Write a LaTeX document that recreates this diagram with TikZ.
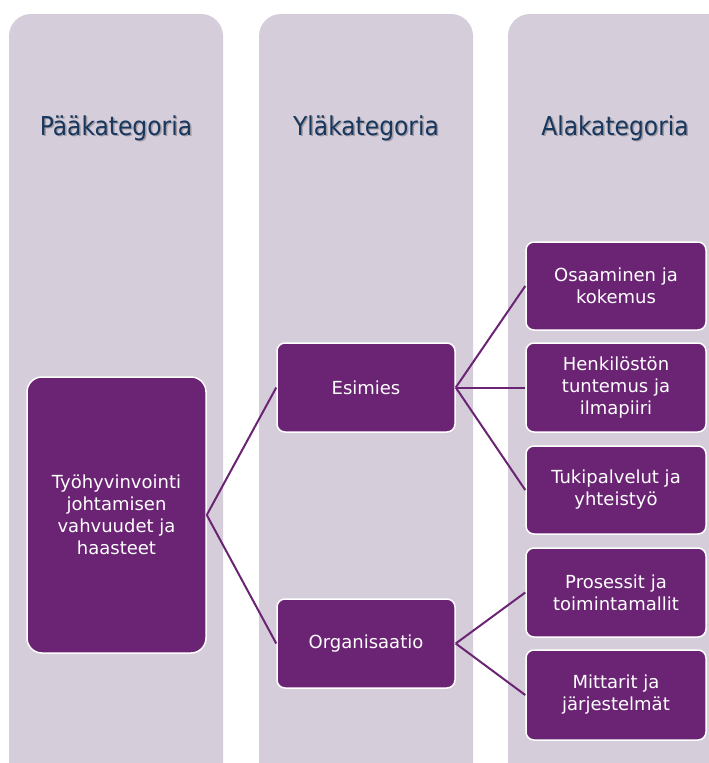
\documentclass[tikz,border=0pt]{standalone}
\usepackage{fontspec}
\setmainfont{DejaVu Sans}
\newfontfamily\condfont{DejaVu Sans Condensed}
\definecolor{colbg}{HTML}{D5CDD9}
\definecolor{boxpurple}{HTML}{6B2474}
\definecolor{headblue}{HTML}{17375E}
\tikzset{
  column/.style={fill=colbg, draw=none, rounded corners=22pt},
  catbox/.style={fill=boxpurple, draw=white, line width=1.5pt, rounded corners=8pt,
    text=white, align=center, inner sep=2pt, font=\fontsize{18}{22}\selectfont},
  header/.style={text=headblue, font=\condfont\fontsize{26}{30}\selectfont},
  hshadow/.style={text=black, opacity=0.25, font=\condfont\fontsize{26}{30}\selectfont},
  link/.style={draw=boxpurple, line width=2pt}
}
\begin{document}
\begin{tikzpicture}[x=1pt,y=-1pt]
\useasboundingbox (0,0) rectangle (709,763);
\begin{scope}
\clip (0,0) rectangle (709,763);
\fill[column] (9,14) rectangle (223,790);
\fill[column] (259,14) rectangle (473,790);
\fill[column] (508,14) rectangle (730,790);
\end{scope}
\node[hshadow] (h1s) at (117.5,129.5) {Pääkategoria};
\node[hshadow] (h2s) at (367.5,129.5) {Yläkategoria};
\node[hshadow] (h3s) at (616.5,129.5) {Alakategoria};
\node[header] (h1) at (116,128) {Pääkategoria};
\node[header] (h2) at (366,128) {Yläkategoria};
\node[header] (h3) at (615,128) {Alakategoria};

\node[catbox, minimum width=179pt, minimum height=276pt, rounded corners=15pt] (main) at (116.5,515)
  {Työhyvinvointi\\johtamisen\\vahvuudet ja\\haasteet};
\node[catbox, minimum width=178pt, minimum height=89pt] (esi) at (366,387.5) {Esimies};
\node[catbox, minimum width=178pt, minimum height=89pt] (org) at (366,643.5) {Organisaatio};
\node[catbox, minimum width=180pt, minimum height=88pt] (osa) at (616,286) {Osaaminen ja\\kokemus};
\node[catbox, minimum width=180pt, minimum height=89pt] (hen) at (616,387.5) {Henkilöstön\\tuntemus ja\\ilmapiiri};
\node[catbox, minimum width=180pt, minimum height=88pt] (tuk) at (616,490) {Tukipalvelut ja\\yhteistyö};
\node[catbox, minimum width=180pt, minimum height=89pt] (pro) at (616,592.5) {Prosessit ja\\toimintamallit};
\node[catbox, minimum width=180pt, minimum height=90pt] (mit) at (616,695) {Mittarit ja\\järjestelmät};

\draw[link] (main.east) -- (esi.west);
\draw[link] (main.east) -- (org.west);
\draw[link] (esi.east) -- (osa.west);
\draw[link] (esi.east) -- (hen.west);
\draw[link] (esi.east) -- (tuk.west);
\draw[link] (org.east) -- (pro.west);
\draw[link] (org.east) -- (mit.west);
\end{tikzpicture}
\end{document}
